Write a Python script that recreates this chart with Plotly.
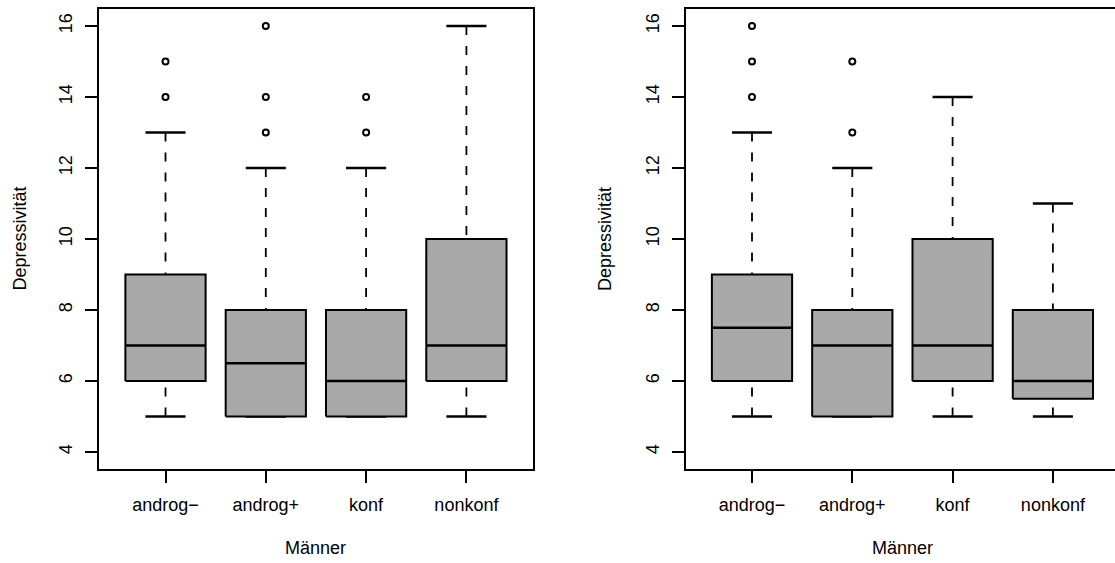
import plotly.graph_objects as go

W, H = 1115, 563

categories = ["androg\u2212", "androg+", "konf", "nonkonf"]

# Panel 1 (left) box statistics
p1_lower = [5, 5, 5, 5]
p1_q1 = [6, 5, 5, 6]
p1_median = [7, 6.5, 6, 7]
p1_q3 = [9, 8, 8, 10]
p1_upper = [13, 12, 12, 16]
p1_outliers = [[14, 15], [13, 14, 16], [13, 14], []]

# Panel 2 (right) box statistics
p2_lower = [5, 5, 5, 5]
p2_q1 = [6, 5, 6, 5.5]
p2_median = [7.5, 7, 7, 6]
p2_q3 = [9, 8, 10, 8]
p2_upper = [13, 12, 14, 11]
p2_outliers = [[14, 15, 16], [13, 15], [], []]

y_ticks = [4, 6, 8, 10, 12, 14, 16]
x_title = "Männer"
y_title = "Depressivität"

FONT = "Liberation Sans, Arial, Helvetica, sans-serif"
FILL = "#A9A9A9"
BOXW = 0.4     # half box width
STAPW = 0.2    # half staple width

fig = go.Figure()


def add_panel(xa, ya, lower, q1, med, q3, upper, outl):
    bx, by, mx, my, wx, wy, sx, sy, ox, oy = [], [], [], [], [], [], [], [], [], []
    for i in range(len(categories)):
        c = i + 1
        # whiskers: from extreme to hinge
        if upper[i] > q3[i]:
            wx += [c, c, None]
            wy += [upper[i], q3[i], None]
        if lower[i] < q1[i]:
            wx += [c, c, None]
            wy += [lower[i], q1[i], None]
        sx += [c - STAPW, c + STAPW, None, c - STAPW, c + STAPW, None]
        sy += [upper[i], upper[i], None, lower[i], lower[i], None]
        bx += [c - BOXW, c + BOXW, c + BOXW, c - BOXW, c - BOXW, None]
        by += [q1[i], q1[i], q3[i], q3[i], q1[i], None]
        mx += [c - BOXW, c + BOXW, None]
        my += [med[i], med[i], None]
        for v in outl[i]:
            ox.append(c)
            oy.append(v)
    common = dict(xaxis=xa, yaxis=ya, showlegend=False, hoverinfo="skip")
    fig.add_trace(go.Scatter(x=wx, y=wy, mode="lines",
                             line=dict(color="black", width=1.8, dash="9px,11px"), **common))
    fig.add_trace(go.Scatter(x=sx, y=sy, mode="lines",
                             line=dict(color="black", width=2.5), **common))
    fig.add_trace(go.Scatter(x=bx, y=by, mode="lines", fill="toself", fillcolor=FILL,
                             line=dict(color="black", width=2), **common))
    fig.add_trace(go.Scatter(x=mx, y=my, mode="lines",
                             line=dict(color="black", width=2.5), **common))
    fig.add_trace(go.Scatter(x=ox, y=oy, mode="markers",
                             marker=dict(symbol="circle-open", size=6, color="black",
                                         line=dict(width=2, color="black")), **common))


add_panel("x", "y", p1_lower, p1_q1, p1_median, p1_q3, p1_upper, p1_outliers)
add_panel("x2", "y2", p2_lower, p2_q1, p2_median, p2_q3, p2_upper, p2_outliers)

# geometry (pixels)
px_per_unit = 100.3
p1_left, p2_left = 99.3, 685.8
top, bottom = 9, 469
x_lo = 0.34
p1_right = p1_left + (4.66 - x_lo) * px_per_unit
p2_hi = x_lo + (W - p2_left) / px_per_unit

xcommon = dict(tickmode="array", tickvals=[1, 2, 3, 4], ticktext=categories,
               ticks="outside", ticklen=12, tickwidth=2, tickcolor="black",
               showgrid=False, zeroline=False, showline=True, linewidth=2,
               linecolor="black", mirror=True, ticklabelstandoff=6,
               tickfont=dict(family=FONT, size=18, color="black"))
ycommon = dict(tickmode="array", tickvals=y_ticks, ticktext=[str(v) for v in y_ticks],
               range=[3.52, 16.48], ticks="outside", ticklen=12, tickwidth=2,
               tickcolor="black", showgrid=False, zeroline=False, showline=True,
               linewidth=2, linecolor="black", tickangle=-90, ticklabelstandoff=6,
               tickfont=dict(family=FONT, size=18, color="black"))

ydom = [1 - bottom / H, 1 - top / H]

fig.update_layout(
    width=W, height=H, margin=dict(l=0, r=0, t=0, b=0),
    plot_bgcolor="white", paper_bgcolor="white",
    xaxis=dict(domain=[p1_left / W, p1_right / W], range=[x_lo, 4.66], anchor="y", **xcommon),
    yaxis=dict(domain=ydom, anchor="x", mirror=True, **ycommon),
    xaxis2=dict(domain=[p2_left / W, 1.0], range=[x_lo, p2_hi], anchor="y2", **xcommon),
    yaxis2=dict(domain=ydom, anchor="x2", mirror=False, **ycommon),
)

p2_right = p2_left + (4.66 - x_lo) * px_per_unit
annots = []
for cx, lx in [((p1_left + p1_right) / 2, 19.6), ((p2_left + p2_right) / 2, 605)]:
    annots.append(dict(text=x_title, x=cx / W, y=1 - 548 / H, xref="paper", yref="paper",
                       xanchor="center", yanchor="middle", showarrow=False,
                       font=dict(family=FONT, size=18, color="black")))
    annots.append(dict(text=y_title, x=lx / W, y=1 - 239 / H, xref="paper", yref="paper",
                       xanchor="center", yanchor="middle", showarrow=False, textangle=-90,
                       font=dict(family=FONT, size=18, color="black")))
fig.update_layout(annotations=annots)

fig.write_html("out.html")
